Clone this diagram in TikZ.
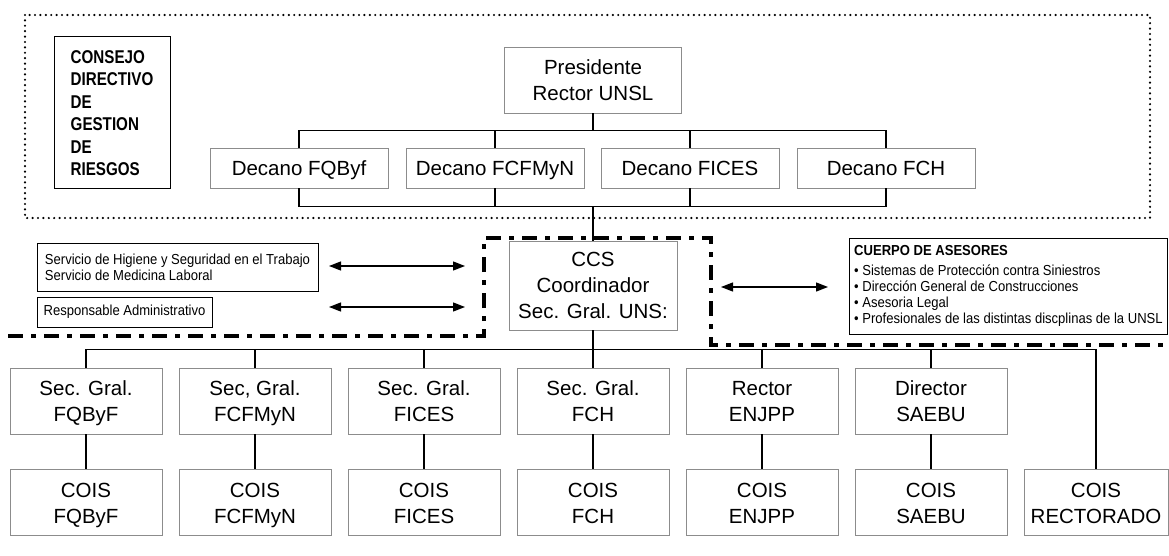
\documentclass[tikz,border=0pt]{standalone}
\usepackage{fontspec}
\setmainfont{Liberation Sans}
\newfontfamily\narrowsans[FakeStretch=0.82]{Liberation Sans}
\newfontfamily\smallsans[FakeStretch=0.9]{Liberation Sans}
\usepackage{tikz}
\usetikzlibrary{positioning,shapes,arrows.meta,calc}
\definecolor{boxgray}{RGB}{140,140,140}
\newcommand{\boxfont}{\fontsize{20.5}{26}\selectfont}
\newcommand{\notefont}{\smallsans\fontsize{14.5}{16}\selectfont}
\newcommand{\boardfont}{\narrowsans\bfseries\fontsize{18.5}{22.5}\selectfont}

\begin{document}
\begin{tikzpicture}[x=1pt, y=1pt, node distance=169pt]
    \tikzstyle{head} = [rectangle, minimum width=177pt, minimum height=66pt, align=center, text depth=0pt, draw=boxgray, line width=0.9pt, font=\boxfont]
    \tikzstyle{dean} = [rectangle, minimum width=178pt, minimum height=40pt, text centered, text height=15pt, text depth=0pt, draw=boxgray, line width=0.9pt, font=\boxfont]
    \tikzstyle{unit} = [rectangle, minimum width=152pt, minimum height=66pt, align=center, text depth=0pt, draw=boxgray, line width=0.9pt, font=\boxfont]
    \tikzstyle{note} = [rectangle, align=left, draw=black, line width=0.9pt, font=\notefont]
    \tikzstyle{board} = [rectangle, minimum width=116pt, minimum height=152pt, align=left, draw=black, line width=1pt, font=\boardfont]
    \tikzstyle{link} = [line width=1.3pt]
    \tikzstyle{twoway} = [<->, >={Triangle[length=12pt, width=9pt]}, line width=1.3pt]
    \tikzstyle{dotframe} = [line width=2.4pt, dash pattern=on 0pt off 5.4pt, line cap=round]
    \tikzstyle{dashframe} = [line width=3.3pt, dash pattern=on 15pt off 8pt on 5pt off 8pt]

    \useasboundingbox (0,0) rectangle (1169,-556);

    % Frames
    \draw [dotframe] (25,-15) rectangle (1150,-218);
    \draw [dashframe] (8,-336) -- (484,-336) -- (484,-238) -- (711,-238) -- (711,-345) -- (1169,-345);

    % Council
    \node [board] (consejo) at (112,-113) {CONSEJO\\DIRECTIVO\\DE\\GESTION\\DE\\RIESGOS};
    \node [head] (presidente) at (593,-80) {Presidente\\Rector UNSL};

    % Deans
    \node [dean] (dfqb) at (299,-168) {Decano FQByf};
    \node [dean, right of=dfqb, xshift=27pt] (dfcf) {Decano FCFMyN};
    \node [dean, right of=dfcf, xshift=26pt] (dfic) {Decano FICES};
    \node [dean, right of=dfic, xshift=27pt] (dfch) {Decano FCH};

    % Coordination
    \node [head, minimum width=168pt, minimum height=89pt] (ccs) at (593,-285.5) {CCS\\Coordinador\\Sec. Gral. UNS:};
    \node [note, minimum width=281pt, minimum height=48pt] (servicio) at (177.5,-267) {Servicio de Higiene y Seguridad en el Trabajo\\Servicio de Medicina Laboral};
    \node [note, minimum width=175pt, minimum height=30pt] (responsable) at (124.5,-312) {Responsable Administrativo};
    \node [note, anchor=west, minimum width=318pt, minimum height=96pt] (asesores) at (849,-286) {\textbf{CUERPO DE ASESORES}\\[4pt]
        \textbullet\ Sistemas de Protección contra Siniestros\\
        \textbullet\ Dirección General de Construcciones\\
        \textbullet\ Asesoria Legal\\
        \textbullet\ Profesionales de las distintas discplinas de la UNSL};

    % Secretaries
    \node [unit] (sfqb) at (86,-401) {Sec. Gral.\\FQByF};
    \node [unit, right of=sfqb] (sfcf) {Sec, Gral.\\FCFMyN};
    \node [unit, right of=sfcf] (sfic) {Sec. Gral.\\FICES};
    \node [unit, right of=sfic] (sfch) {Sec. Gral.\\FCH};
    \node [unit, right of=sfch] (renj) {Rector\\ENJPP};
    \node [unit, right of=renj] (dsae) {Director\\SAEBU};

    % COIS
    \node [unit, below=35pt of sfqb] (cfqb) {COIS\\FQByF};
    \node [unit, below=35pt of sfcf] (cfcf) {COIS\\FCFMyN};
    \node [unit, below=35pt of sfic] (cfic) {COIS\\FICES};
    \node [unit, below=35pt of sfch] (cfch) {COIS\\FCH};
    \node [unit, below=35pt of renj] (cenj) {COIS\\ENJPP};
    \node [unit, below=35pt of dsae] (csae) {COIS\\SAEBU};
    \node [unit, minimum width=144pt, right of=csae, xshift=-4pt] (crect) {COIS\\RECTORADO};

    % Arrow ends
    \coordinate (a1w) at (329,-266);
    \coordinate (a1e) at (465,-266);
    \coordinate (a2w) at (329,-307);
    \coordinate (a2e) at (465,-307);
    \coordinate (a3w) at (721,-287);
    \coordinate (a3e) at (828,-287);

    % Lines
    \draw [link] (presidente.south) -- ++(0,-18);
    \draw [link] (dfqb.north) -- ++(0,17) -| (dfch.north);
    \draw [link] (dfcf.north) -- ++(0,17);
    \draw [link] (dfic.north) -- ++(0,17);
    \draw [link] (dfqb.south) -- ++(0,-18) -| (dfch.south);
    \draw [link] (dfcf.south) -- ++(0,-18);
    \draw [link] (dfic.south) -- ++(0,-18);
    \draw [link] (ccs.north) -- ++(0,35);
    \draw [link] (ccs.south) -- ++(0,-20);
    \draw [link] (sfqb.north) -- ++(0,18) -| (crect.north);
    \draw [link] (sfcf.north) -- ++(0,18);
    \draw [link] (sfic.north) -- ++(0,18);
    \draw [link] (sfch.north) -- ++(0,18);
    \draw [link] (renj.north) -- ++(0,18);
    \draw [link] (dsae.north) -- ++(0,18);
    \draw [link] (sfqb) -- (cfqb);
    \draw [link] (sfcf) -- (cfcf);
    \draw [link] (sfic) -- (cfic);
    \draw [link] (sfch) -- (cfch);
    \draw [link] (renj) -- (cenj);
    \draw [link] (dsae) -- (csae);
    \draw [twoway] (a1w) -- (a1e);
    \draw [twoway] (a2w) -- (a2e);
    \draw [twoway] (a3w) -- (a3e);
\end{tikzpicture}
\end{document}
